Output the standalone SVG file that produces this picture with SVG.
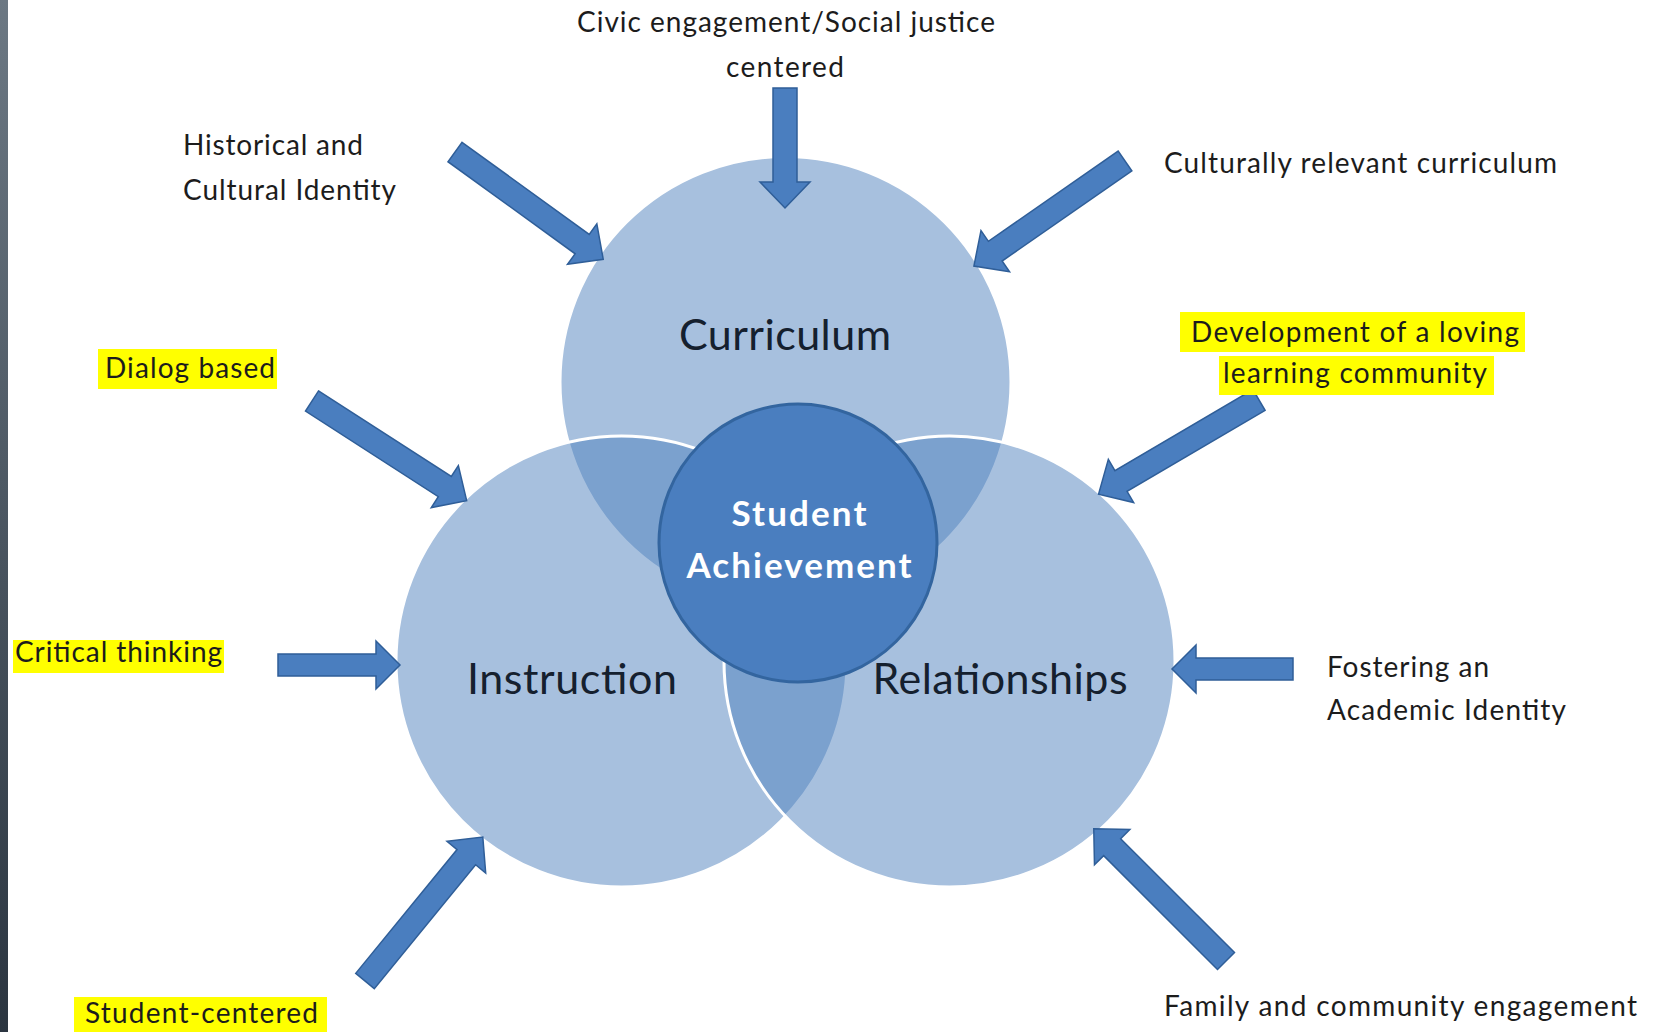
<svg xmlns="http://www.w3.org/2000/svg" width="1663" height="1032" viewBox="0 0 1663 1032">
  <defs>
    <linearGradient id="barGrad" x1="0" y1="0" x2="0" y2="1">
      <stop offset="0" stop-color="#6c7883"/>
      <stop offset="1" stop-color="#2b3540"/>
    </linearGradient>
  </defs>
  <style>
    .venn { fill: #4F81BD; fill-opacity: 0.5; stroke: #ffffff; stroke-width: 3; }
    .core { fill: #4a7ebf; stroke: #33659f; stroke-width: 3; }
    .arrow { fill: #4a7ebf; stroke: #2f5e98; stroke-width: 1.5; stroke-linejoin: miter; }
    .lbl { font-family: Lato, "Liberation Sans", sans-serif; font-size: 28px; fill: #1c1c1c; }
    .big { font-family: Lato, "Liberation Sans", sans-serif; font-size: 43px; fill: #15202e; }
    .core-t { font-family: Lato, "Liberation Sans", sans-serif; font-size: 35px; font-weight: bold; fill: #ffffff; }
    .hl { fill: #ffff00; }
  </style>

  <rect x="0" y="0" width="1663" height="1032" fill="#ffffff"/>
  <rect x="0" y="0" width="8" height="1032" fill="url(#barGrad)"/>

  <g id="node-curriculum">
    <circle class="venn" cx="785.5" cy="382" r="225.5"/>
    <text class="big" x="785" y="350" text-anchor="middle" textLength="212">Curriculum</text>
  </g>
  <g id="node-instruction">
    <circle class="venn" cx="621.5" cy="661.5" r="225.5"/>
    <text class="big" x="572" y="694" text-anchor="middle" textLength="210">Instruction</text>
  </g>
  <g id="node-relationships">
    <circle class="venn" cx="949.5" cy="661.5" r="225.5"/>
    <text class="big" x="1000" y="694" text-anchor="middle" textLength="255">Relationships</text>
  </g>
  <g id="node-student-achievement">
    <circle class="core" cx="798" cy="543" r="139"/>
    <text class="core-t" x="799" y="526" text-anchor="middle" textLength="135">Student</text>
    <text class="core-t" x="799" y="578" text-anchor="middle" textLength="225">Achievement</text>
  </g>

  <g id="connectors">
    <path class="arrow" transform="translate(785,88) rotate(90)" d="M0,-12 L94,-12 L94,-25 L120,0 L94,25 L94,12 L0,12 Z"/>
    <path class="arrow" transform="translate(455,152) rotate(35.9)" d="M0,-12 L157,-12 L157,-25 L183,0 L157,25 L157,12 L0,12 Z"/>
    <path class="arrow" transform="translate(1125,161) rotate(145.2)" d="M0,-12 L158,-12 L158,-25 L184,0 L158,25 L158,12 L0,12 Z"/>
    <path class="arrow" transform="translate(312,401) rotate(32.8)" d="M0,-12 L158,-12 L158,-25 L184,0 L158,25 L158,12 L0,12 Z"/>
    <path class="arrow" transform="translate(278,665) rotate(0)" d="M0,-11 L98,-11 L98,-24 L122,0 L98,24 L98,11 L0,11 Z"/>
    <path class="arrow" transform="translate(365,981) rotate(-50.7)" d="M0,-12 L160,-12 L160,-25 L186,0 L160,25 L160,12 L0,12 Z"/>
    <path class="arrow" transform="translate(1259,400) rotate(149.6)" d="M0,-12 L160,-12 L160,-25 L186,0 L160,25 L160,12 L0,12 Z"/>
    <path class="arrow" transform="translate(1293,669) rotate(180)" d="M0,-11 L97,-11 L97,-24 L121,0 L97,24 L97,11 L0,11 Z"/>
    <path class="arrow" transform="translate(1226,961) rotate(-135)" d="M0,-12 L161,-12 L161,-25 L187,0 L161,25 L161,12 L0,12 Z"/>
  </g>

  <g id="label-civic">
    <text class="lbl" x="786" y="32" text-anchor="middle" textLength="418">Civic engagement/Social justice</text>
    <text class="lbl" x="785" y="77" text-anchor="middle" textLength="118">centered</text>
  </g>
  <g id="label-historical">
    <text class="lbl" x="183" y="155" textLength="180">Historical and</text>
    <text class="lbl" x="183" y="200" textLength="213">Cultural Identity</text>
  </g>
  <g id="label-culturally">
    <text class="lbl" x="1164" y="173" textLength="393">Culturally relevant curriculum</text>
  </g>
  <g id="label-dialog">
    <rect class="hl" x="98" y="349" width="179" height="40"/>
    <text class="lbl" x="105" y="378" textLength="170">Dialog based</text>
  </g>
  <g id="label-critical">
    <rect class="hl" x="13" y="640" width="211" height="33"/>
    <text class="lbl" x="15" y="662" textLength="207">Critical thinking</text>
  </g>
  <g id="label-student-centered">
    <rect class="hl" x="74" y="997" width="253" height="35"/>
    <text class="lbl" x="85" y="1023" textLength="233">Student-centered</text>
  </g>
  <g id="label-development">
    <rect class="hl" x="1180" y="312" width="345" height="40"/>
    <rect class="hl" x="1219" y="356" width="275" height="39"/>
    <text class="lbl" x="1191" y="342" textLength="328">Development of a loving</text>
    <text class="lbl" x="1223" y="383" textLength="264">learning community</text>
  </g>
  <g id="label-fostering">
    <text class="lbl" x="1327" y="677" textLength="162">Fostering an</text>
    <text class="lbl" x="1327" y="720" textLength="239">Academic Identity</text>
  </g>
  <g id="label-family">
    <text class="lbl" x="1164" y="1016" textLength="473">Family and community engagement</text>
  </g>
</svg>
